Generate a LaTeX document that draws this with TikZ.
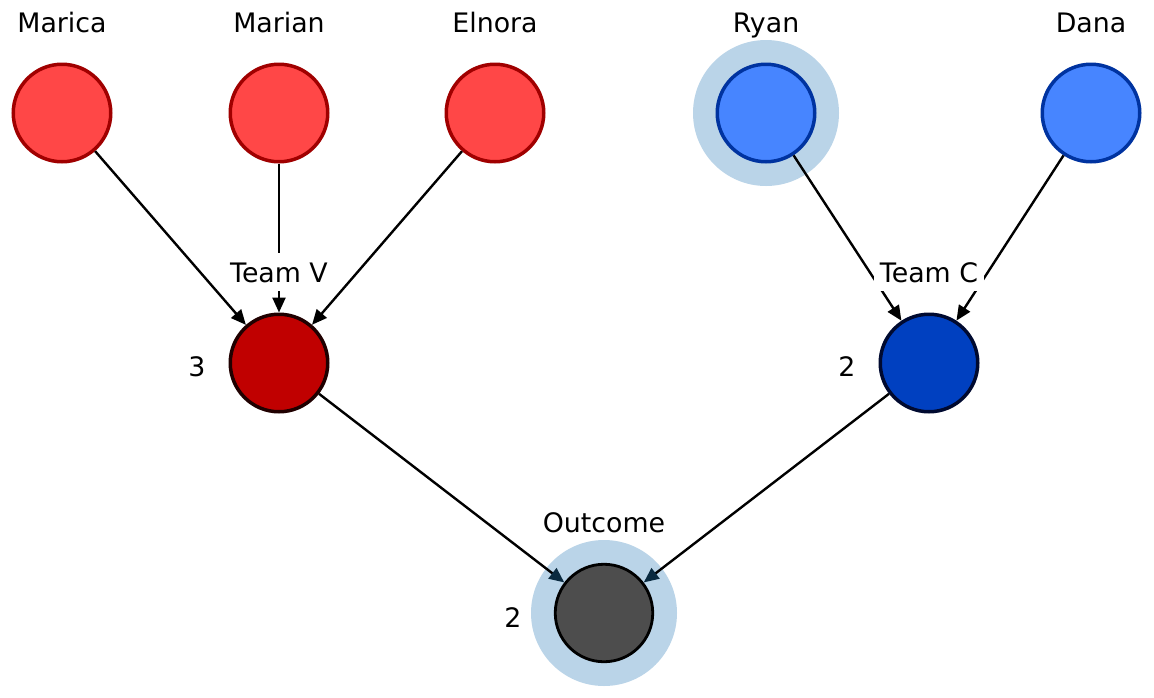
\documentclass[tikz,border=0pt]{standalone}
\usepackage{fontspec}
\setmainfont{DejaVu Sans}
\usetikzlibrary{arrows.meta}
\definecolor{redfill}{HTML}{FF4747}
\definecolor{rededge}{HTML}{A00000}
\definecolor{bluefill}{HTML}{4785FF}
\definecolor{blueedge}{HTML}{0033A0}
\definecolor{teamvfill}{HTML}{C00000}
\definecolor{teamvedge}{HTML}{200000}
\definecolor{teamcfill}{HTML}{0040C0}
\definecolor{teamcedge}{HTML}{000A30}
\definecolor{outfill}{HTML}{4D4D4D}
\definecolor{halo}{HTML}{BAD4E8}
\definecolor{navyhead}{HTML}{0A2A40}
\begin{document}
\begin{tikzpicture}[x=1pt,y=-1pt,
  font=\fontsize{26.8}{30}\selectfont,
  member/.style={circle, minimum size=97.5pt, inner sep=0pt, line width=3.5pt},
  redmember/.style={member, fill=redfill, draw=rededge},
  bluemember/.style={member, fill=bluefill, draw=blueedge},
  teamv/.style={member, fill=teamvfill, draw=teamvedge},
  teamc/.style={member, fill=teamcfill, draw=teamcedge},
  outnode/.style={member, fill=outfill, draw=black, line width=2.8pt},
  halonode/.style={circle, fill=halo, minimum size=146pt, inner sep=0pt},
  lab/.style={inner sep=0pt, anchor=base},
  teamlab/.style={fill=white, inner xsep=6pt, inner ysep=9pt, text depth=0pt, anchor=base},
  link/.style={line width=2.4pt, -{Triangle[length=15pt,width=13pt]}},
  outlink/.style={line width=2.4pt, -{Triangle[length=15pt,width=13pt,color=navyhead]}},
]
\useasboundingbox[fill=white] (0,0) rectangle (1154,697);
% halos
\node[halonode] (ryanhalo) at (766,113) {};
\node[halonode] (outhalo) at (604,613) {};
% nodes
\node[redmember] (marica) at (62,113) {};
\node[redmember] (marian) at (279,113) {};
\node[redmember] (elnora) at (495,113) {};
\node[bluemember] (ryan) at (766,113) {};
\node[bluemember] (dana) at (1091,113) {};
\node[teamv] (tv) at (279,363) {};
\node[teamc] (tc) at (929,363) {};
\node[outnode] (out) at (604,613) {};
% edges
\draw[link] (marica) -- (tv);
\draw[link] (marian) -- (tv);
\draw[link] (elnora) -- (tv);
\draw[link] (ryan) -- (tc);
\draw[link] (dana) -- (tc);
\draw[outlink] (tv) -- (out);
\draw[outlink] (tc) -- (out);
% labels
\node[lab] (lmarica) at (62,32) {Marica};
\node[lab] (lmarian) at (279,32) {Marian};
\node[lab] (lelnora) at (495,32) {Elnora};
\node[lab] (lryan) at (766,32) {Ryan};
\node[lab] (ldana) at (1091,32) {Dana};
\node[teamlab] (ltv) at (279,282) {Team V};
\node[teamlab] (ltc) at (929,282) {Team C};
\node[lab] (lout) at (604,532) {Outcome};
\node[lab] (ntv) at (197,376) {3};
\node[lab] (ntc) at (847,376) {2};
\node[lab] (nout) at (513,627) {2};
\end{tikzpicture}
\end{document}
